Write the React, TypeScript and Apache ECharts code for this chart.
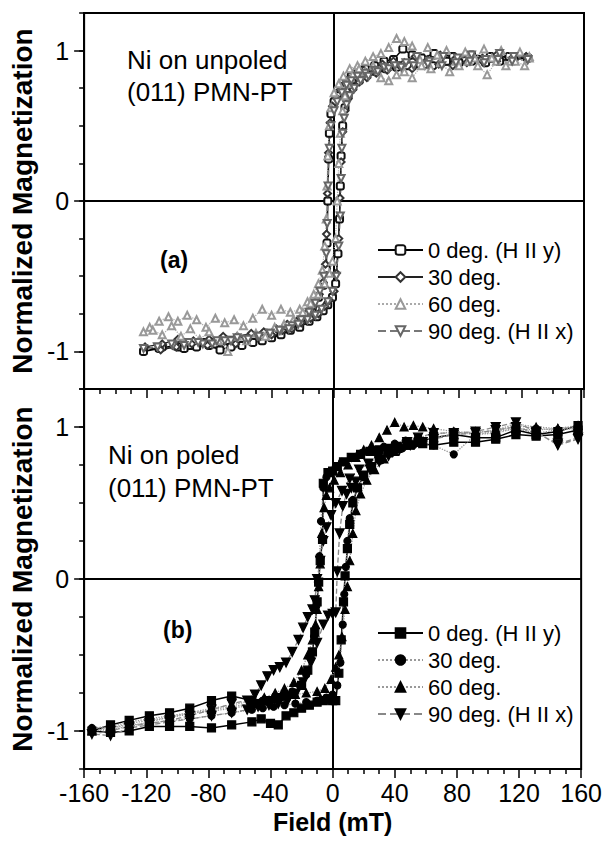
import React, { useEffect, useRef } from 'react';
import * as echarts from 'echarts';

type Pt = [number, number];

// ---------- Axis ranges / ticks ----------
const fieldMin = -160;
const fieldMax = 160;
const fieldStep = 40;
const magMin = -1.25;
const magMax = 1.25;
const magLabelValues = [-1, 0, 1];

const legendNames = ['0 deg. (H II y)', '30 deg.', '60 deg.', '90 deg. (H II x)'];

// ---------- Panel (a): Ni on unpoled (011) PMN-PT ----------
const a0deg: Pt[] = [
  [124, 0.95], [112, 0.96], [100, 0.96], [88, 0.97], [76, 0.96], [64, 0.98], [56, 0.95], [50, 0.97], [44, 1.01], [38, 0.94],
  [32, 0.93], [26, 0.9], [20, 0.88], [15, 0.86], [11, 0.83], [8, 0.8], [5, 0.76], [2, 0.7], [0, 0.66], [-2, 0.58],
  [-3, 0.45], [-3.5, 0.28], [-4, 0.0], [-4.5, -0.28], [-5, -0.45], [-7, -0.56], [-10, -0.64], [-14, -0.72], [-19, -0.77],
  [-25, -0.81], [-31, -0.84], [-37, -0.87], [-44, -0.88], [-52, -0.91], [-60, -0.93], [-68, -0.93], [-76, -0.95],
  [-84, -0.94], [-92, -0.96], [-100, -0.97], [-110, -0.97], [-122, -1.0],
  [-112, -0.98], [-102, -0.96], [-96, -0.98], [-88, -0.97], [-80, -0.96], [-73, -0.99], [-66, -0.97], [-59, -0.96],
  [-52, -0.94], [-46, -0.93], [-40, -0.91], [-34, -0.89], [-28, -0.86], [-22, -0.84], [-16, -0.8], [-11, -0.77],
  [-7, -0.73], [-4, -0.69], [-1, -0.64], [1, -0.55], [2.5, -0.35], [3.5, -0.12], [4, 0.1], [4.5, 0.3], [5.5, 0.5],
  [7, 0.62], [9, 0.7], [12, 0.76], [16, 0.8], [21, 0.84], [27, 0.86], [33, 0.88], [40, 0.89], [47, 0.9], [55, 0.91],
  [63, 0.9], [72, 0.93], [80, 0.92], [88, 0.93], [97, 0.92], [106, 0.93], [115, 0.94], [124, 0.95],
];
const a30deg: Pt[] = [
  [123, 0.96], [114, 0.94], [104, 0.97], [95, 0.95], [86, 0.96], [77, 0.94], [68, 0.97], [60, 0.94], [52, 0.96], [45, 0.92],
  [38, 0.93], [31, 0.91], [25, 0.88], [19, 0.87], [14, 0.84], [10, 0.81], [7, 0.78], [4, 0.74], [1, 0.69], [-1, 0.63],
  [-2.5, 0.52], [-3.5, 0.32], [-4.2, 0.05], [-4.8, -0.22], [-5.5, -0.42], [-7, -0.54], [-9.5, -0.62], [-13, -0.7],
  [-18, -0.75], [-24, -0.8], [-30, -0.82], [-37, -0.85], [-45, -0.87], [-53, -0.88], [-62, -0.9], [-71, -0.9],
  [-80, -0.92], [-90, -0.93], [-100, -0.92], [-110, -0.95], [-121, -0.97],
  [-111, -0.99], [-101, -0.97], [-91, -0.95], [-81, -0.96], [-72, -0.94], [-63, -0.95], [-55, -0.92], [-47, -0.9],
  [-40, -0.89], [-33, -0.86], [-27, -0.85], [-21, -0.81], [-15, -0.78], [-10, -0.75], [-6, -0.7], [-3, -0.66], [0, -0.6],
  [1.5, -0.48], [3, -0.25], [3.8, 0.02], [4.5, 0.26], [5.5, 0.46], [7, 0.6], [9, 0.68], [12, 0.74], [16, 0.79],
  [21, 0.82], [27, 0.85], [34, 0.87], [42, 0.9], [50, 0.88], [58, 0.9], [67, 0.91], [76, 0.9], [85, 0.92], [94, 0.94],
  [104, 0.93], [114, 0.95], [123, 0.96],
];
const a60deg: Pt[] = [
  [125, 0.96], [119, 0.99], [113, 0.93], [107, 1.0], [101, 0.95], [96, 1.01], [90, 0.95], [84, 0.99], [78, 0.93], [72, 1.0],
  [66, 0.97], [60, 1.02], [55, 0.94], [50, 1.03], [45, 1.06], [40, 1.08], [35, 1.02], [30, 0.98], [25, 0.96], [20, 0.93],
  [15, 0.9], [10, 0.88], [6, 0.83], [3, 0.78], [0, 0.72], [-2, 0.62], [-3, 0.5], [-4, 0.3], [-4.5, 0.1], [-5, -0.12],
  [-6, -0.3], [-7.5, -0.46], [-10, -0.55], [-13, -0.62], [-17, -0.67], [-22, -0.72], [-28, -0.74], [-34, -0.72],
  [-40, -0.76], [-46, -0.72], [-52, -0.78], [-58, -0.83], [-64, -0.79], [-70, -0.81], [-76, -0.78], [-82, -0.84],
  [-88, -0.79], [-94, -0.76], [-100, -0.8], [-106, -0.77], [-112, -0.8], [-118, -0.84], [-122, -0.87],
  [-116, -0.86], [-110, -0.89], [-104, -0.83], [-98, -0.9], [-92, -0.85], [-86, -0.92], [-80, -0.87], [-74, -0.93],
  [-68, -1.0], [-62, -0.9], [-56, -0.93], [-50, -0.88], [-44, -0.9], [-38, -0.84], [-32, -0.82], [-26, -0.79],
  [-20, -0.74], [-15, -0.68], [-10, -0.62], [-6, -0.55], [-3, -0.48], [-1, -0.4], [1, -0.25], [2, 0.0], [3, 0.25],
  [4, 0.45], [5.5, 0.6], [7, 0.7], [9, 0.78], [12, 0.84], [16, 0.88], [20, 0.86], [25, 0.9], [30, 0.82], [35, 0.8],
  [40, 0.84], [45, 0.86], [50, 0.82], [56, 0.9], [62, 0.88], [68, 0.92], [74, 0.86], [80, 0.9], [86, 0.93], [92, 0.9],
  [98, 0.84], [104, 0.93], [110, 0.9], [116, 0.93], [122, 0.9], [125, 0.95],
];
const a90deg: Pt[] = [
  [124, 0.94], [115, 0.96], [106, 0.98], [97, 0.94], [88, 0.97], [79, 0.95], [70, 0.96], [61, 0.93], [53, 0.96], [46, 0.92],
  [39, 0.9], [32, 0.89], [26, 0.87], [20, 0.85], [15, 0.83], [11, 0.8], [8, 0.77], [5, 0.72], [2, 0.66], [0, 0.6],
  [-2, 0.5], [-3, 0.35], [-3.8, 0.1], [-4.4, -0.15], [-5, -0.35], [-6.5, -0.5], [-9, -0.6], [-12, -0.68], [-16, -0.74],
  [-21, -0.79], [-27, -0.83], [-34, -0.86], [-41, -0.88], [-49, -0.9], [-57, -0.92], [-66, -0.93], [-75, -0.93],
  [-84, -0.95], [-93, -0.94], [-103, -0.96], [-113, -0.97], [-122, -0.98],
  [-113, -0.97], [-104, -0.95], [-96, -0.96], [-87, -0.94], [-78, -0.95], [-70, -0.93], [-62, -0.91], [-55, -0.92],
  [-48, -0.9], [-41, -0.88], [-35, -0.86], [-29, -0.85], [-23, -0.82], [-17, -0.79], [-12, -0.76], [-8, -0.72],
  [-4, -0.67], [-1, -0.6], [1.5, -0.5], [3, -0.3], [4, -0.1], [4.5, 0.15], [5, 0.35], [5.5, 0.45], [6.5, 0.55],
  [8, 0.64], [10, 0.7], [13, 0.75], [17, 0.8], [22, 0.83], [28, 0.86], [35, 0.88], [43, 0.89], [51, 0.9], [60, 0.91],
  [69, 0.9], [78, 0.92], [87, 0.93], [96, 0.92], [105, 0.94], [114, 0.93], [124, 0.94],
];

// ---------- Panel (b): Ni on poled (011) PMN-PT ----------
const b0deg: Pt[] = [
  [158, 1.01], [145, 0.97], [131, 0.95], [118, 0.98], [105, 0.93], [92, 0.93], [78, 0.95], [65, 0.93], [55, 0.9],
  [48, 0.89], [42, 0.87], [36, 0.86], [30, 0.85], [24, 0.84], [18, 0.82], [12, 0.8], [7, 0.77], [3, 0.74], [0, 0.71],
  [-3, 0.7], [-6, 0.63], [-6.5, 0.26], [-8, 0.12], [-9, -0.02], [-10, -0.15], [-11.5, -0.35], [-13, -0.48], [-16, -0.6],
  [-20, -0.7], [-25, -0.75], [-30, -0.77], [-36, -0.78], [-42, -0.8], [-48, -0.82], [-52, -0.8], [-65, -0.77],
  [-78, -0.8], [-92, -0.85], [-105, -0.88], [-118, -0.9], [-131, -0.93], [-143, -0.96], [-155, -1.0],
  [-143, -1.01], [-131, -1.0], [-118, -0.97], [-105, -0.97], [-92, -0.97], [-78, -0.98], [-65, -0.96], [-52, -0.94],
  [-46, -0.92], [-40, -0.95], [-35, -0.96], [-30, -0.9], [-25, -0.88], [-20, -0.85], [-15, -0.83], [-10, -0.81],
  [-6, -0.8], [-3, -0.79], [0, -0.8], [2, -0.8], [4, -0.62], [5.5, -0.4], [7, -0.15], [8, 0.02], [9.5, 0.2], [11, 0.36],
  [13, 0.5], [16, 0.6], [20, 0.68], [25, 0.74], [30, 0.79], [36, 0.83], [42, 0.86], [50, 0.88], [58, 0.89], [65, 0.88],
  [78, 0.9], [92, 0.9], [105, 0.92], [118, 0.95], [131, 0.94], [145, 0.95], [158, 0.98],
];
const b30deg: Pt[] = [
  [158, 0.99], [145, 0.98], [131, 0.96], [118, 0.99], [105, 0.96], [92, 0.95], [78, 0.97], [65, 0.95], [55, 0.93],
  [47, 0.91], [40, 0.89], [33, 0.87], [26, 0.85], [19, 0.83], [12, 0.8], [6, 0.77], [2, 0.74], [-1, 0.71], [-4, 0.67],
  [-6, 0.6], [-7.5, 0.38], [-8.5, 0.15], [-9.5, -0.02], [-10.5, -0.18], [-12, -0.38], [-14, -0.52], [-17, -0.63],
  [-21, -0.7], [-26, -0.74], [-32, -0.77], [-38, -0.79], [-45, -0.8], [-52, -0.83], [-65, -0.85], [-78, -0.87],
  [-92, -0.88], [-105, -0.9], [-118, -0.92], [-131, -0.94], [-143, -0.97], [-155, -0.98],
  [-143, -0.98], [-131, -0.96], [-118, -0.95], [-105, -0.93], [-92, -0.92], [-78, -0.9], [-65, -0.88], [-52, -0.86],
  [-45, -0.85], [-38, -0.84], [-31, -0.83], [-24, -0.82], [-17, -0.81], [-10, -0.8], [-4, -0.78], [0, -0.76], [3, -0.7],
  [5, -0.55], [6.5, -0.3], [7.5, -0.1], [8.5, 0.08], [9.5, 0.25], [11, 0.4], [13, 0.52], [16, 0.6], [20, 0.67],
  [25, 0.73], [31, 0.78], [38, 0.83], [45, 0.86], [52, 0.88], [65, 0.88], [78, 0.82], [92, 0.95], [105, 0.97],
  [118, 1.01], [131, 0.99], [145, 0.98], [158, 1.0],
];
const b60deg: Pt[] = [
  [158, 1.0], [145, 0.99], [131, 1.0], [118, 1.02], [105, 0.98], [92, 0.96], [78, 0.97], [65, 0.99], [58, 1.0], [52, 1.01],
  [46, 1.0], [40, 1.03], [35, 0.98], [30, 0.93], [25, 0.88], [20, 0.85], [15, 0.8], [10, 0.75], [5, 0.7], [1, 0.65],
  [-2, 0.6], [-4, 0.55], [-5.5, 0.47], [-7, 0.3], [-8, 0.1], [-9, -0.05], [-10, -0.2], [-11, -0.3], [-13, -0.4],
  [-16, -0.5], [-20, -0.6], [-25, -0.68], [-31, -0.72], [-37, -0.75], [-44, -0.78], [-52, -0.8], [-65, -0.83],
  [-78, -0.85], [-92, -0.88], [-105, -0.91], [-118, -0.93], [-131, -0.95], [-143, -0.98], [-155, -1.0],
  [-143, -0.99], [-131, -0.97], [-118, -0.94], [-105, -0.91], [-92, -0.89], [-78, -0.86], [-65, -0.84], [-52, -0.82],
  [-45, -0.8], [-38, -0.78], [-31, -0.77], [-24, -0.76], [-17, -0.75], [-10, -0.74], [-5, -0.72], [-1, -0.66],
  [2, -0.58], [4, -0.5], [6, -0.38], [8, -0.2], [9.5, -0.05], [11, 0.12], [13, 0.3], [15, 0.45], [18, 0.56], [22, 0.65],
  [27, 0.72], [33, 0.79], [40, 0.84], [47, 0.88], [54, 0.9], [65, 0.93], [78, 0.95], [92, 0.97], [105, 0.97],
  [118, 0.99], [131, 0.98], [145, 0.99], [158, 1.01],
];
const b90deg: Pt[] = [
  [158, 0.92], [145, 0.88], [131, 0.97], [118, 1.03], [105, 1.0], [92, 0.97], [78, 0.96], [65, 0.96], [55, 0.93],
  [48, 0.9], [41, 0.87], [35, 0.84], [29, 0.8], [23, 0.76], [17, 0.72], [11, 0.66], [6, 0.58], [2, 0.5], [-1, 0.42],
  [-4, 0.34], [-6, 0.25], [-8, 0.12], [-10, 0.0], [-11.5, -0.14], [-13, -0.2], [-16, -0.25], [-19, -0.32], [-22, -0.4],
  [-26, -0.48], [-30, -0.55], [-34, -0.58], [-38, -0.6], [-42, -0.64], [-46, -0.7], [-50, -0.76], [-55, -0.8],
  [-65, -0.82], [-78, -0.86], [-92, -0.9], [-105, -0.93], [-118, -0.95], [-131, -0.97], [-143, -1.0], [-155, -1.02],
  [-143, -1.03], [-131, -0.98], [-118, -0.96], [-105, -0.94], [-92, -0.92], [-78, -0.9], [-65, -0.88], [-55, -0.86],
  [-48, -0.84], [-41, -0.83], [-35, -0.82], [-29, -0.8], [-24, -0.76], [-19, -0.68], [-14, -0.55], [-10, -0.42],
  [-6, -0.3], [-3, -0.24], [0, -0.23], [2, -0.22], [3, 0.05], [4.5, 0.3], [6.5, 0.48], [9, 0.56], [12, 0.6], [15, 0.64],
  [19, 0.68], [24, 0.72], [30, 0.77], [36, 0.81], [43, 0.85], [50, 0.88], [58, 0.9], [65, 0.92], [78, 0.95], [92, 0.96],
  [105, 0.98], [118, 1.0], [131, 0.96], [145, 0.89], [158, 0.93],
];

const FONT = '"Liberation Sans", Arial, Helvetica, sans-serif';

function xAxisDef(gridIndex: number, withLabels: boolean) {
  return {
    type: 'value',
    gridIndex,
    min: fieldMin,
    max: fieldMax,
    interval: fieldStep,
    axisLine: { show: true, onZero: false, lineStyle: { color: '#000', width: 2 } },
    axisTick: { show: true, inside: false, length: 9, lineStyle: { color: '#000', width: 1.5 } },
    minorTick: { show: true, splitNumber: 4, length: 5, lineStyle: { color: '#000', width: 1.5 } },
    splitLine: { show: false },
    axisLabel: withLabels
      ? { show: true, fontSize: 25, color: '#000', fontFamily: FONT, margin: 11 }
      : { show: false },
    name: withLabels ? 'Field (mT)' : '',
    nameLocation: 'middle',
    nameGap: 40,
    nameTextStyle: { fontSize: 25, fontWeight: 'bold', color: '#000', fontFamily: FONT },
  };
}

function yAxisMain(gridIndex: number) {
  return {
    type: 'value',
    gridIndex,
    position: 'left',
    min: magMin,
    max: magMax,
    interval: 0.25,
    axisLine: { show: true, onZero: false, lineStyle: { color: '#000', width: 2 } },
    axisTick: { show: true, inside: false, length: 5, lineStyle: { color: '#000', width: 1.5 } },
    splitLine: { show: false },
    axisLabel: {
      show: true,
      customValues: magLabelValues,
      fontSize: 25,
      color: '#000',
      fontFamily: FONT,
      margin: 15,
    },
    name: 'Normalized Magnetization',
    nameLocation: 'middle',
    nameGap: 46,
    nameTextStyle: { fontSize: 28, fontWeight: 'bold', color: '#000', fontFamily: FONT },
  };
}

function yAxisMajorTicks(gridIndex: number) {
  return {
    type: 'value',
    gridIndex,
    position: 'left',
    min: magMin,
    max: magMax,
    interval: 0.25,
    axisLine: { show: false, onZero: false },
    axisTick: { show: true, inside: false, length: 10, customValues: magLabelValues, lineStyle: { color: '#000', width: 1.5 } },
    splitLine: { show: false },
    axisLabel: { show: false },
  };
}

function mkSeries(
  id: string,
  label: string,
  data: Pt[],
  axisIdx: number,
  yIdx: number,
  symbol: string,
  symbolSize: number,
  symbolRotate: number,
  markerColor: string,
  lineColor: string,
  lineType: string,
  lineWidth: number,
  withZeroLines: boolean,
) {
  const s: any = {
    type: 'line',
    name: id + '|' + label,
    xAxisIndex: axisIdx,
    yAxisIndex: yIdx,
    data,
    symbol,
    symbolSize,
    symbolRotate,
    showAllSymbol: true,
    smooth: false,
    itemStyle: { color: markerColor, borderColor: markerColor, borderWidth: 1.2 },
    lineStyle: { color: lineColor, type: lineType, width: lineWidth },
    emphasis: { disabled: true },
  };
  if (withZeroLines) {
    s.markLine = {
      silent: true,
      symbol: 'none',
      label: { show: false },
      lineStyle: { color: '#000', width: 2, type: 'solid' },
      data: [{ xAxis: 0 }, { yAxis: 0 }],
      z: 1,
    };
  }
  return s;
}

export default function App() {
  const ref = useRef<HTMLDivElement>(null);

  useEffect(() => {
    document.body.style.margin = '0';
    const chart = echarts.init(ref.current as HTMLDivElement, null, { renderer: 'svg' });

    const series = [
      mkSeries('a', legendNames[0], a0deg, 0, 0, 'emptyRoundRect', 7, 0, '#111', '#000', 'solid', 1.5, true),
      mkSeries('a', legendNames[1], a30deg, 0, 0, 'emptyDiamond', 7, 0, '#333', '#222', 'solid', 1.2, false),
      mkSeries('a', legendNames[2], a60deg, 0, 0, 'emptyTriangle', 7, 0, '#999', '#aaa', 'dotted', 1.2, false),
      mkSeries('a', legendNames[3], a90deg, 0, 0, 'emptyTriangle', 7, 180, '#666', '#777', 'dashed', 1.2, false),
      mkSeries('b', legendNames[0], b0deg, 1, 2, 'rect', 8, 0, '#000', '#000', 'solid', 1.5, true),
      mkSeries('b', legendNames[1], b30deg, 1, 2, 'circle', 7, 0, '#000', '#999', 'dotted', 1.3, false),
      mkSeries('b', legendNames[2], b60deg, 1, 2, 'triangle', 8, 0, '#000', '#999', 'dotted', 1.3, false),
      mkSeries('b', legendNames[3], b90deg, 1, 2, 'triangle', 9, 180, '#000', '#888', 'dashed', 1.3, false),
    ];

    const legendBase = {
      orient: 'vertical',
      left: 372,
      itemWidth: 45,
      itemHeight: 12,
      itemGap: 5,
      formatter: (n: string) => n.split('|')[1],
      textStyle: { fontSize: 22, color: '#000', fontFamily: FONT, lineHeight: 22 },
      selectedMode: false,
    };

    const option: any = {
      animation: false,
      backgroundColor: '#fff',
      grid: [
        { left: 82, top: 13, width: 502, height: 376, show: true, borderColor: '#000', borderWidth: 2, backgroundColor: 'transparent' },
        { left: 82, top: 389, width: 502, height: 380, show: true, borderColor: '#000', borderWidth: 2, backgroundColor: 'transparent' },
      ],
      xAxis: [xAxisDef(0, false), xAxisDef(1, true)],
      yAxis: [yAxisMain(0), yAxisMajorTicks(0), yAxisMain(1), yAxisMajorTicks(1)],
      legend: [
        { ...legendBase, top: 234, data: legendNames.map((n) => 'a|' + n) },
        { ...legendBase, top: 617, data: legendNames.map((n) => 'b|' + n) },
      ],
      graphic: [
        { type: 'text', x: 127, y: 60, style: { text: 'Ni on unpoled', fontSize: 26, fontFamily: FONT, fill: '#000', verticalAlign: 'middle' } },
        { type: 'text', x: 127, y: 92, style: { text: '(011) PMN-PT', fontSize: 26, fontFamily: FONT, fill: '#000', verticalAlign: 'middle' } },
        { type: 'text', x: 160, y: 260, style: { text: '(a)', fontSize: 23, fontWeight: 'bold', fontFamily: FONT, fill: '#000', verticalAlign: 'middle' } },
        { type: 'text', x: 108, y: 455, style: { text: 'Ni on poled', fontSize: 26, fontFamily: FONT, fill: '#000', verticalAlign: 'middle' } },
        { type: 'text', x: 108, y: 488, style: { text: '(011) PMN-PT', fontSize: 26, fontFamily: FONT, fill: '#000', verticalAlign: 'middle' } },
        { type: 'text', x: 163, y: 630, style: { text: '(b)', fontSize: 23, fontWeight: 'bold', fontFamily: FONT, fill: '#000', verticalAlign: 'middle' } },
      ],
      series,
    };

    chart.setOption(option);
    return () => chart.dispose();
  }, []);

  return <div ref={ref} style={{ width: 605, height: 843 }} />;
}
